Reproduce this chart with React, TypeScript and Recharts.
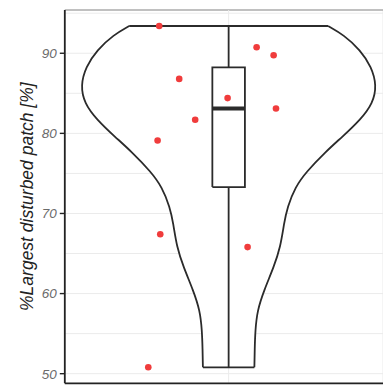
import {
  ComposedChart,
  Area,
  Scatter,
  XAxis,
  YAxis,
  CartesianGrid,
  ReferenceLine,
} from "recharts";

// violin outline: value on y, half width (1 = widest point)
const violinY = [
  50.8, 53.0, 55.4, 57.9, 60.4, 63.3, 65.8, 68.75, 70.8, 73.3, 75.2, 77.7,
  79.6, 81.7, 83.75, 86.0, 88.3, 90.4, 92.3, 93.4,
];
const violinHalfWidth = [
  0.174, 0.176, 0.18, 0.194, 0.239, 0.305, 0.35, 0.374, 0.397, 0.45, 0.525,
  0.655, 0.77, 0.89, 0.975, 1.0, 0.965, 0.89, 0.777, 0.672,
];

// min, q1, median, q3, max
const boxStats = [50.8, 73.3, 83.1, 88.25, 93.4];

const pointValues = [93.4, 90.75, 89.75, 86.8, 84.4, 83.1, 81.7, 79.1, 67.4, 65.8, 50.8];
const pointJitter = [-0.469, 0.189, 0.304, -0.334, -0.007, 0.32, -0.226, -0.48, -0.462, 0.128, -0.543];

const yTicks = [50, 55, 60, 65, 70, 75, 80, 85, 90, 95];
const yDomain = [48.8, 95.4];
const xDomain = [-1.107, 1.043];

const FONT = '"Liberation Sans", Arial, sans-serif';
const BOX_HW = 0.11;

const violinData = violinY.map((y, i) => ({ y, w: [-violinHalfWidth[i], violinHalfWidth[i]] }));
const last = violinY.length - 1;
const topEdge = [
  { x: -violinHalfWidth[last], y: violinY[last] },
  { x: violinHalfWidth[last], y: violinY[last] },
];
const bottomEdge = [
  { x: -violinHalfWidth[0], y: violinY[0] },
  { x: violinHalfWidth[0], y: violinY[0] },
];

const [wMin, q1, med, q3, wMax] = boxStats;
const boxOutline = [
  { x: -BOX_HW, y: q1 },
  { x: -BOX_HW, y: q3 },
  { x: BOX_HW, y: q3 },
  { x: BOX_HW, y: q1 },
  { x: -BOX_HW, y: q1 },
];
const medianLine = [
  { x: -BOX_HW, y: med },
  { x: BOX_HW, y: med },
];
const upperWhisker = [
  { x: 0, y: q3 },
  { x: 0, y: wMax },
];
const lowerWhisker = [
  { x: 0, y: wMin },
  { x: 0, y: q1 },
];

const points = pointValues.map((y, i) => ({ x: pointJitter[i], y }));

const INK = "#2b2b2b";
const lineStyle = { stroke: INK, strokeWidth: 1.8 };
const noShape = () => <g />;

function YTick(props: any) {
  const { x, y, payload } = props;
  if (payload.value % 10 !== 0) return <g />;
  return (
    <g>
      <line x1={x + 3} x2={x + 8} y1={y} y2={y} stroke="#222" strokeWidth={1.4} />
      <text
        x={x}
        y={y}
        dy="0.36em"
        textAnchor="end"
        fontSize={13.5}
        fontStyle="italic"
        fill="#6b6b6b"
        fontFamily={FONT}
      >
        {payload.value}
      </text>
    </g>
  );
}

function RedDot(props: any) {
  return <circle cx={props.cx} cy={props.cy} r={3.3} fill="#F03C3C" />;
}

export default function App() {
  return (
    <div>
      <style>{`body{margin:0}`}</style>
      <ComposedChart
        width={383}
        height={386}
        layout="vertical"
        margin={{ top: 10, right: 0, bottom: 0, left: 0 }}
      >
        <CartesianGrid stroke="#EBEBEB" />
        <XAxis
          type="number"
          dataKey="x"
          domain={xDomain}
          allowDataOverflow
          ticks={[0]}
          tick={false}
          tickSize={3}
          height={2.7}
          axisLine={{ stroke: "#222", strokeWidth: 1.8 }}
          tickLine={{ stroke: "#222", strokeWidth: 1.4 }}
        />
        <YAxis
          type="number"
          dataKey="y"
          reversed
          domain={yDomain}
          allowDataOverflow
          ticks={yTicks}
          interval={0}
          width={64.8}
          tickSize={5}
          tickMargin={3}
          tickLine={false}
          tick={<YTick />}
          axisLine={{ stroke: "#222", strokeWidth: 1.8 }}
          label={{
            value: "%Largest disturbed patch [%]",
            angle: -90,
            position: "insideLeft",
            offset: 27,
            style: {
              textAnchor: "middle",
              fontStyle: "italic",
              fontSize: 17.5,
              fill: "#222",
              fontFamily: FONT,
            },
          }}
        />
        <ReferenceLine y={yDomain[1]} stroke="#8c8c8c" strokeWidth={1.2} />
        <ReferenceLine x={0} stroke="#EBEBEB" strokeWidth={1} />
        <Area
          data={violinData}
          dataKey="w"
          type="basis"
          stroke={INK}
          strokeWidth={1.8}
          fill="#fff"
          fillOpacity={1}
          isAnimationActive={false}
        />
        <Scatter data={topEdge} line={lineStyle} shape={noShape} isAnimationActive={false} />
        <Scatter data={bottomEdge} line={lineStyle} shape={noShape} isAnimationActive={false} />
        <Scatter data={upperWhisker} line={lineStyle} shape={noShape} isAnimationActive={false} />
        <Scatter data={lowerWhisker} line={lineStyle} shape={noShape} isAnimationActive={false} />
        <Scatter
          data={boxOutline}
          line={{ ...lineStyle, fill: "#fff" }}
          shape={noShape}
          isAnimationActive={false}
        />
        <Scatter
          data={medianLine}
          line={{ stroke: INK, strokeWidth: 4 }}
          shape={noShape}
          isAnimationActive={false}
        />
        <Scatter data={points} shape={<RedDot />} isAnimationActive={false} />
      </ComposedChart>
    </div>
  );
}
